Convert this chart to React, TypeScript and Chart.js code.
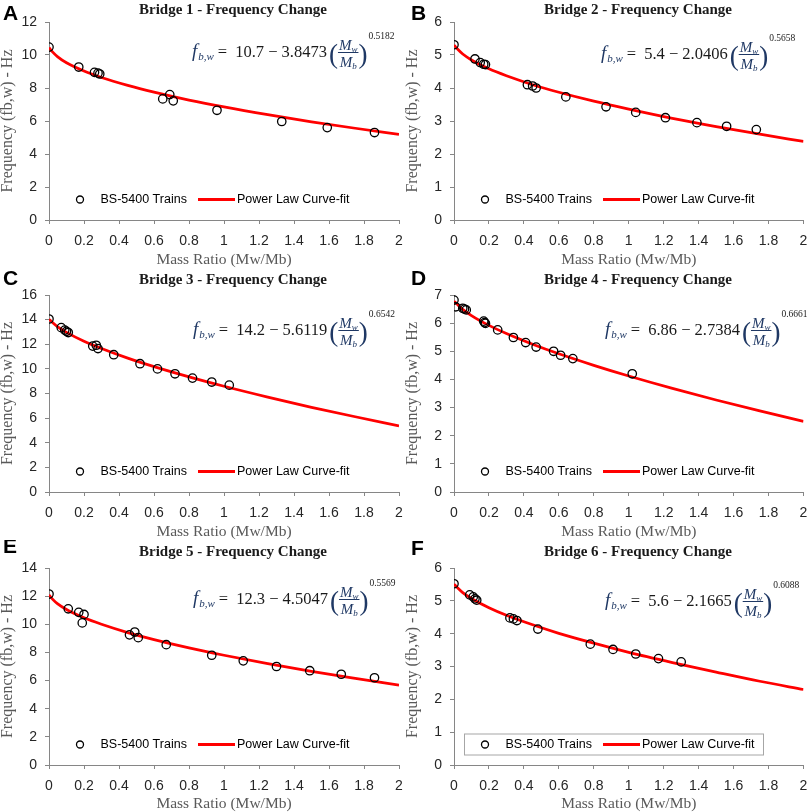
import React, { useEffect, useRef } from "react";
import { Chart, registerables } from "chart.js";

Chart.register(...registerables);

const SANS = "'Liberation Sans', Arial, sans-serif";
const SERIF = "'Liberation Serif', 'Times New Roman', serif";

// x positions at which the fitted power-law curve values were read
const CURVE_X = [0, 0.02, 0.05, 0.1, 0.2, 0.3, 0.45, 0.6, 0.8, 1.0, 1.25, 1.5, 1.75, 2.0];

// Bridge 1
const B1_MASS = [0, 0.17, 0.26, 0.28, 0.29, 0.65, 0.69, 0.71, 0.96, 1.33, 1.59, 1.86];
const B1_FREQ = [10.48, 9.27, 8.95, 8.9, 8.85, 7.34, 7.6, 7.22, 6.65, 5.97, 5.6, 5.3];
const B1_FIT = [10.45, 10.19, 9.89, 9.53, 9.03, 8.64, 8.16, 7.75, 7.27, 6.85, 6.38, 5.95, 5.56, 5.19];

// Bridge 2
const B2_MASS = [0, 0.12, 0.15, 0.17, 0.18, 0.42, 0.45, 0.47, 0.64, 0.87, 1.04, 1.21, 1.39, 1.56, 1.73];
const B2_FREQ = [5.31, 4.88, 4.77, 4.72, 4.71, 4.1, 4.06, 4.0, 3.73, 3.43, 3.26, 3.1, 2.95, 2.84, 2.74];
const B2_FIT = [5.3, 5.18, 5.03, 4.85, 4.58, 4.37, 4.1, 3.87, 3.6, 3.36, 3.08, 2.83, 2.6, 2.38];

// Bridge 3
const B3_MASS = [0, 0.07, 0.09, 0.1, 0.11, 0.25, 0.27, 0.28, 0.37, 0.52, 0.62, 0.72, 0.82, 0.93, 1.03];
const B3_FREQ = [14.05, 13.35, 13.15, 13.05, 12.95, 11.85, 11.92, 11.65, 11.15, 10.42, 10.0, 9.6, 9.25, 8.93, 8.68];
const B3_FIT = [14.03, 13.77, 13.41, 12.96, 12.24, 11.65, 10.87, 10.18, 9.35, 8.59, 7.71, 6.88, 6.11, 5.37];

// Bridge 4
const B4_MASS = [0, 0.01, 0.05, 0.06, 0.07, 0.17, 0.175, 0.18, 0.25, 0.34, 0.41, 0.47, 0.57, 0.61, 0.68, 1.02];
const B4_FREQ = [6.82, 6.58, 6.53, 6.5, 6.47, 6.07, 6.02, 5.99, 5.76, 5.49, 5.31, 5.15, 5.0, 4.86, 4.74, 4.2];
const B4_FIT = [6.78, 6.66, 6.49, 6.27, 5.92, 5.63, 5.25, 4.91, 4.5, 4.12, 3.68, 3.27, 2.88, 2.51];

// Bridge 5
const B5_MASS = [0, 0.11, 0.17, 0.2, 0.19, 0.46, 0.49, 0.51, 0.67, 0.93, 1.11, 1.3, 1.49, 1.67, 1.86];
const B5_FREQ = [12.15, 11.1, 10.85, 10.7, 10.1, 9.25, 9.45, 9.05, 8.55, 7.8, 7.4, 7.0, 6.7, 6.45, 6.2];
const B5_FIT = [12.1, 11.79, 11.45, 11.05, 10.46, 10.0, 9.41, 8.91, 8.32, 7.8, 7.2, 6.65, 6.15, 5.67];

// Bridge 6
const B6_MASS = [0, 0.09, 0.11, 0.12, 0.13, 0.32, 0.34, 0.36, 0.48, 0.78, 0.91, 1.04, 1.17, 1.3];
const B6_FREQ = [5.52, 5.18, 5.12, 5.06, 5.02, 4.48, 4.45, 4.4, 4.14, 3.68, 3.52, 3.38, 3.24, 3.14];
const B6_FIT = [5.51, 5.4, 5.25, 5.07, 4.79, 4.56, 4.27, 4.01, 3.71, 3.43, 3.12, 2.83, 2.55, 2.3];

const MASS = [B1_MASS, B2_MASS, B3_MASS, B4_MASS, B5_MASS, B6_MASS];
const FREQ = [B1_FREQ, B2_FREQ, B3_FREQ, B4_FREQ, B5_FREQ, B6_FREQ];
const FIT = [B1_FIT, B2_FIT, B3_FIT, B4_FIT, B5_FIT, B6_FIT];

const TITLES = [
  "Bridge 1 - Frequency Change",
  "Bridge 2 - Frequency Change",
  "Bridge 3 - Frequency Change",
  "Bridge 4 - Frequency Change",
  "Bridge 5 - Frequency Change",
  "Bridge 6 - Frequency Change",
];
const LETTERS = ["A", "B", "C", "D", "E", "F"];
const Y_MAX = [12, 6, 16, 7, 14, 6];
const Y_STEP = [2, 1, 2, 1, 2, 1];
const X_MIN = 0;
const X_MAX = 2;
const X_STEP = 0.2;
const EQ_A = ["10.7", "5.4", "14.2", "6.86", "12.3", "5.6"];
const EQ_B = ["3.8473", "2.0406", "5.6119", "2.7384", "4.5047", "2.1665"];
const EQ_P = ["0.5182", "0.5658", "0.6542", "0.6661", "0.5569", "0.6088"];
const SCATTER_LABEL = "BS-5400 Trains";
const FIT_LABEL = "Power Law Curve-fit";
const X_TITLE = "Mass Ratio (Mw/Mb)";
const Y_TITLE = "Frequency (fb,w) - Hz";

// layout (styles)
const COL_LEFT = [0, 405];
const COL_W = [405, 404];
const ROW_TOP = [0, 268, 540];
const ROW_H = [268, 272, 272];
const PLOT_TOP = [22, 27, 28];
const PLOT_BOTTOM = [220, 224, 225];
const TITLE_Y = [10, 12, 12];
const LETTER_BASE = [
  [20, 20],
  [17, 17],
  [13, 15],
];
const LETTER_X = [3, 6];
const EQ_POS = [
  [192, 57],
  [196, 59],
  [193, 67],
  [200, 67],
  [193, 64],
  [200, 66],
];

function drawEquation(ctx: CanvasRenderingContext2D, x0: number, y: number, a: string, b: string, p: string) {
  const NAVY = "#1f3864";
  const DARK = "#1a1a1a";
  let x = x0;
  ctx.textAlign = "left";
  ctx.textBaseline = "alphabetic";
  ctx.fillStyle = NAVY;
  ctx.font = `italic 19px ${SERIF}`;
  ctx.fillText("f", x, y);
  x += ctx.measureText("f").width + 1;
  ctx.font = `italic 11px ${SERIF}`;
  ctx.fillText("b,w", x, y + 3);
  x += ctx.measureText("b,w").width + 4;
  ctx.fillStyle = DARK;
  ctx.font = `16.5px ${SERIF}`;
  ctx.fillText("=", x, y);
  x += ctx.measureText("=").width + 8;
  const t = `${a} \u2212 ${b}`;
  ctx.fillText(t, x, y);
  x += ctx.measureText(t).width + 2;
  ctx.fillStyle = NAVY;
  ctx.font = `27px ${SERIF}`;
  ctx.fillText("(", x, y + 6);
  x += ctx.measureText("(").width;
  ctx.font = `italic 15px ${SERIF}`;
  const mW = ctx.measureText("M").width;
  ctx.font = `italic 9px ${SERIF}`;
  const wW = ctx.measureText("w").width;
  const bW = ctx.measureText("b").width;
  const numW = mW + wW;
  const denW = mW + bW;
  const fw = Math.max(numW, denW) + 2;
  const cx = x + fw / 2;
  const nx = cx - numW / 2;
  ctx.font = `italic 15px ${SERIF}`;
  ctx.fillText("M", nx, y - 7);
  ctx.font = `italic 9px ${SERIF}`;
  ctx.fillText("w", nx + mW, y - 5);
  ctx.strokeStyle = NAVY;
  ctx.lineWidth = 1;
  ctx.beginPath();
  ctx.moveTo(x, y - 4.5);
  ctx.lineTo(x + fw, y - 4.5);
  ctx.stroke();
  const dx = cx - denW / 2;
  ctx.font = `italic 15px ${SERIF}`;
  ctx.fillText("M", dx, y + 10);
  ctx.font = `italic 9px ${SERIF}`;
  ctx.fillText("b", dx + mW, y + 12);
  x += fw;
  ctx.font = `27px ${SERIF}`;
  ctx.fillText(")", x, y + 6);
  x += ctx.measureText(")").width + 1;
  ctx.fillStyle = DARK;
  ctx.font = `9.5px ${SERIF}`;
  ctx.fillText(p, x, y - 18);
}

const decorPlugin = {
  id: "panelDecor",
  afterDraw(chart: any, _args: any, opts: any) {
    const ctx: CanvasRenderingContext2D = chart.ctx;
    const ca = chart.chartArea;
    ctx.save();
    ctx.font = `bold 15px ${SERIF}`;
    ctx.fillStyle = "#1a1a1a";
    ctx.textAlign = "center";
    ctx.textBaseline = "middle";
    ctx.fillText(opts.title, opts.titleX, opts.titleY);
    ctx.font = `bold 21px ${SANS}`;
    ctx.fillStyle = "#000";
    ctx.textAlign = "left";
    ctx.textBaseline = "alphabetic";
    ctx.fillText(opts.letter, opts.letterX, opts.letterY);
    const ly = ca.bottom - 20.5;
    const lx = ca.left;
    if (opts.legendBox) {
      ctx.fillStyle = "#fff";
      ctx.fillRect(lx + 10, ly - 10.5, 299, 21);
      ctx.strokeStyle = "#a6a6a6";
      ctx.lineWidth = 1;
      ctx.strokeRect(lx + 10.5, ly - 10.5, 299, 21);
    }
    const ds = chart.data.datasets;
    ctx.strokeStyle = "#000";
    ctx.lineWidth = 1.3;
    ctx.beginPath();
    ctx.arc(lx + 31, ly, 3.5, 0, Math.PI * 2);
    ctx.stroke();
    ctx.font = `12.5px ${SANS}`;
    ctx.fillStyle = "#000";
    ctx.textBaseline = "middle";
    ctx.fillText(ds[0].label, lx + 51.5, ly);
    ctx.strokeStyle = "#ff0000";
    ctx.lineWidth = 3;
    ctx.beginPath();
    ctx.moveTo(lx + 149, ly);
    ctx.lineTo(lx + 186, ly);
    ctx.stroke();
    ctx.fillText(ds[1].label, lx + 188, ly);
    drawEquation(ctx, opts.eqX, opts.eqY, opts.eqA, opts.eqB, opts.eqP);
    ctx.restore();
  },
};

function Panel({ i }: { i: number }) {
  const ref = useRef<HTMLCanvasElement | null>(null);
  const col = i % 2;
  const row = Math.floor(i / 2);
  const w = COL_W[col];
  const h = ROW_H[row];

  useEffect(() => {
    if (!ref.current) return;
    const scatterPts = MASS[i].map((m, k) => ({ x: m, y: FREQ[i][k] }));
    const fitPts = CURVE_X.map((m, k) => ({ x: m, y: FIT[i][k] }));
    const xAxisH = h - PLOT_BOTTOM[row];
    const chart = new Chart(ref.current, {
      type: "scatter",
      data: {
        datasets: [
          {
            label: SCATTER_LABEL,
            data: scatterPts,
            showLine: false,
            pointStyle: "circle",
            pointRadius: 4.2,
            pointHoverRadius: 4.2,
            pointBorderWidth: 1.3,
            pointBorderColor: "#000",
            pointBackgroundColor: "rgba(0,0,0,0)",
          } as any,
          {
            label: FIT_LABEL,
            data: fitPts,
            showLine: true,
            borderColor: "#ff0000",
            borderWidth: 2.75,
            pointRadius: 0,
            pointHoverRadius: 0,
            cubicInterpolationMode: "monotone",
            fill: false,
          } as any,
        ],
      },
      options: {
        responsive: false,
        animation: false,
        layout: {
          padding: { top: PLOT_TOP[row], right: w - 399, bottom: 0, left: 0 },
        },
        plugins: {
          legend: { display: false },
          tooltip: { enabled: false },
          title: { display: false },
          panelDecor: {
            title: TITLES[i],
            titleX: 233,
            titleY: TITLE_Y[row],
            letter: LETTERS[i],
            letterX: LETTER_X[col],
            letterY: LETTER_BASE[row][col],
            legendBox: i === 5,
            eqX: EQ_POS[i][0],
            eqY: EQ_POS[i][1],
            eqA: EQ_A[i],
            eqB: EQ_B[i],
            eqP: EQ_P[i],
          },
        } as any,
        scales: {
          x: {
            type: "linear",
            min: X_MIN,
            max: X_MAX,
            afterFit: (s: any) => {
              s.height = xAxisH;
              s.paddingRight = 0;
              s.paddingLeft = 0;
            },
            grid: { drawOnChartArea: false, drawTicks: true, tickLength: 4, color: "#868686" },
            border: { display: true, color: "#868686", width: 1 },
            ticks: {
              stepSize: X_STEP,
              autoSkip: false,
              maxRotation: 0,
              padding: 9,
              color: "#262626",
              font: { family: SANS, size: 14 },
              callback: (v: any) => String(Number(Number(v).toFixed(1))),
            },
            title: {
              display: true,
              text: X_TITLE,
              color: "#595959",
              font: { family: SERIF, size: 15.5, lineHeight: 1 },
              padding: { top: 0, bottom: 0.5 },
            },
          },
          y: {
            type: "linear",
            min: 0,
            max: Y_MAX[i],
            afterFit: (s: any) => {
              s.width = 49;
            },
            grid: { drawOnChartArea: false, drawTicks: true, tickLength: 4, color: "#868686" },
            border: { display: true, color: "#868686", width: 1 },
            ticks: {
              stepSize: Y_STEP[i],
              padding: 8,
              color: "#262626",
              font: { family: SANS, size: 14 },
            },
            title: {
              display: true,
              text: Y_TITLE,
              color: "#595959",
              font: { family: SERIF, size: 16, lineHeight: 1 },
              padding: 0,
            },
          },
        },
      } as any,
      plugins: [decorPlugin as any],
    });
    return () => chart.destroy();
  }, [i]);

  return (
    <div
      style={{
        position: "absolute",
        left: COL_LEFT[col],
        top: ROW_TOP[row],
        width: w,
        height: h,
        overflow: "hidden",
      }}
    >
      <canvas ref={ref} width={w} height={h} style={{ display: "block", width: w, height: h }} />
    </div>
  );
}

export default function App() {
  return (
    <div
      style={{
        position: "fixed",
        left: 0,
        top: 0,
        width: 809,
        height: 812,
        background: "#fff",
        overflow: "hidden",
      }}
    >
      {[0, 1, 2, 3, 4, 5].map((i) => (
        <Panel key={i} i={i} />
      ))}
    </div>
  );
}
